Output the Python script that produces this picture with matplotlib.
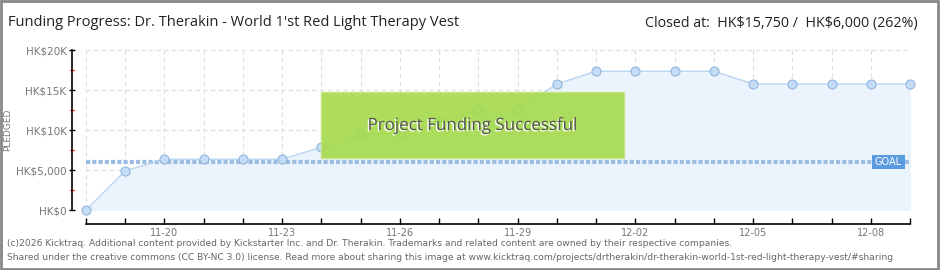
import matplotlib
matplotlib.use("Agg")
import matplotlib.pyplot as plt
from matplotlib.patches import Rectangle
import matplotlib.patheffects as pe
import numpy as np

# ---- data ----
dates = ["11-18", "11-19", "11-20", "11-21", "11-22", "11-23", "11-24", "11-25",
         "11-26", "11-27", "11-28", "11-29", "11-30", "12-01", "12-02", "12-03",
         "12-04", "12-05", "12-06", "12-07", "12-08", "12-09"]
pledged = [0, 4900, 6350, 6350, 6350, 6350, 7850, 9450,
           9450, 11000, 12600, 12600, 15750, 17350, 17350, 17350,
           17350, 15750, 15750, 15750, 15750, 15750]
goal = 6000
yticks = [0, 5000, 10000, 15000, 20000]
ytick_labels = ["HK\\$0", "HK\\$5,000", "HK\\$10K", "HK\\$15K", "HK\\$20K"]
yminor = [2500, 7500, 12500, 17500]

W, H = 940, 270
fig = plt.figure(figsize=(W / 100, H / 100), dpi=100)
fig.patch.set_facecolor("white")

ax = fig.add_axes([86 / W, (H - 210) / H, (910 - 86) / W, 160 / H])
x = np.arange(len(dates))
ax.set_xlim(0, len(dates) - 1)
ax.set_ylim(0, 20000)

# grid
for xi in x:
    ax.axvline(xi, color="#dddddd", lw=0.8, ls=(0, (4, 3)), zorder=0)
for yv in yticks:
    ax.axhline(yv, color="#dddddd", lw=0.8, ls=(0, (4, 3)), zorder=0)

# fill + line
ax.fill_between(x, pledged, 0, color="#ebf3fc", zorder=1)
ax.plot(x, pledged, color="#b9d5f2", lw=1, zorder=3)
ax.plot(x, pledged, ls="none", marker="o", ms=6.5, mfc="#c4dcf6", mec="#93b5dc",
        mew=0.8, zorder=4, clip_on=False)

# goal
ax.axhline(goal, color="#9bbde3", lw=3, ls=(0, (1.0, 0.5)), zorder=2)
gx0 = len(dates) - 1.98
ax.add_patch(Rectangle((gx0, goal - 900), 0.85, 1800,
                       fc="#5b9ce0", ec="none", zorder=6))
ax.text(gx0 + 0.42, goal, "GOAL", color="white", fontsize=7, ha="center",
        va="center", zorder=7, family="DejaVu Sans")

# success box
ax.add_patch(Rectangle((6, 6500), 7.7, 8200, fc="#a5da4a", ec="#c4e67e",
                       lw=1, alpha=0.9, zorder=5))
ax.text(9.85, 10500, "Project Funding Successful", color="#555555", fontsize=12.2,
        ha="center", va="center", zorder=6, family="Open Sans",
        path_effects=[pe.withSimplePatchShadow(offset=(-1, -1), shadow_rgbFace="white", alpha=1)])

# axes styling
for s in ["top", "right"]:
    ax.spines[s].set_visible(False)
ax.spines["left"].set_position(("outward", 10))
ax.spines["bottom"].set_position(("outward", 10))
ax.spines["left"].set_color("black")
ax.spines["bottom"].set_color("black")
ax.spines["left"].set_linewidth(1.2)
ax.spines["bottom"].set_linewidth(1.2)
ax.set_yticks(yticks)
ax.set_yticklabels(ytick_labels)
ax.set_yticks(yminor, minor=True)
ax.tick_params(axis="y", which="minor", colors="red", length=3, direction="inout", width=1)
ax.tick_params(axis="y", which="major", length=4, direction="inout", width=1,
               labelsize=7.5, labelcolor="#777777", pad=2)
ax.set_xticks(x)
ax.set_xticklabels([d if i % 3 == 2 else "" for i, d in enumerate(dates)])
ax.tick_params(axis="x", length=4, direction="in", width=1, labelsize=7,
               labelcolor="#777777", pad=3)
ax.set_facecolor("none")

fig.text(8 / W, 1 - 130 / H, "PLEDGED", rotation=90, fontsize=6.5, color="#777777",
         ha="center", va="center")

# titles
fig.text(8 / W, 1 - 23 / H, "Funding Progress: Dr. Therakin - World 1'st Red Light Therapy Vest",
         fontsize=10.5, color="#222222", ha="left", va="center", family="Open Sans")
fig.text(918 / W, 1 - 23 / H, "Closed at:  HK\\$15,750 /  HK\\$6,000 (262%)",
         fontsize=10.3, color="#222222", ha="right", va="center", family="Open Sans")

# footer
fig.text(7 / W, 1 - 243 / H,
         "(c)2026 Kicktraq. Additional content provided by Kickstarter Inc. and Dr. Therakin. Trademarks and related content are owned by their respective companies.",
         fontsize=6.6, color="#666666", ha="left", va="center")
fig.text(7 / W, 1 - 257 / H,
         "Shared under the creative commons (CC BY-NC 3.0) license. Read more about sharing this image at www.kicktraq.com/projects/drtherakin/dr-therakin-world-1st-red-light-therapy-vest/#sharing",
         fontsize=6.6, color="#666666", ha="left", va="center")

# frame
fig.add_artist(Rectangle((0.001, 0.002), 0.997, 0.996, transform=fig.transFigure,
                         fill=False, ec="#888888", lw=2))

fig.savefig("out.png", dpi=100, facecolor="white")
